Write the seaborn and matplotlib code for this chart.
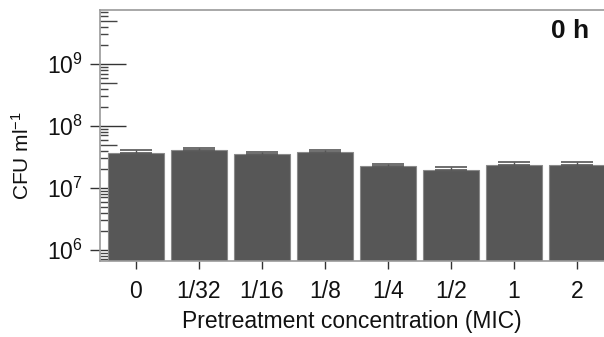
import matplotlib
matplotlib.use("Agg")
import matplotlib.pyplot as plt
import matplotlib.ticker as mticker
import numpy as np
import pandas as pd
import seaborn as sns

# ---- data ----
categories = ["0", "1/32", "1/16", "1/8", "1/4", "1/2", "1", "2"]
cfu_mean = [3.71e7, 4.15e7, 3.53e7, 3.75e7, 2.26e7, 1.97e7, 2.32e7, 2.32e7]
cfu_err = [0.30e7, 0.27e7, 0.22e7, 0.29e7, 0.21e7, 0.18e7, 0.34e7, 0.27e7]
panel_label = "0 h"
x_label = "Pretreatment concentration (MIC)"
y_label = r"CFU ml$^{-1}$"

sns.set_style("white")
plt.rcParams["font.family"] = ["Liberation Sans", "DejaVu Sans"]
plt.rcParams["mathtext.fontset"] = "custom"
plt.rcParams["mathtext.rm"] = "Liberation Sans"
plt.rcParams["mathtext.default"] = "regular"
plt.rcParams["text.color"] = "#111111"
plt.rcParams["axes.labelcolor"] = "#111111"

df = pd.DataFrame({"conc": categories, "cfu": cfu_mean})

fig = plt.figure(figsize=(6.04, 3.37), dpi=100)
ax = fig.add_axes([100 / 604, 76 / 337, 504 / 604, 251 / 337])
ax.set_yscale("log")

sns.barplot(data=df, x="conc", y="cfu", order=categories, color="#575757",
            saturation=1, width=0.9, edgecolor="#8a8a8a", linewidth=0.8,
            errorbar=None, ax=ax)

xpos = np.arange(len(categories))
ax.errorbar(xpos, cfu_mean, yerr=[np.zeros(len(cfu_err)), cfu_err], fmt="none",
            ecolor="#555555", elinewidth=1.0, capsize=11.5, capthick=1.2, zorder=3)

ax.set_xlim(-0.57, 7.43)
ax.set_ylim(10 ** 5.82, 10 ** 9.87)

# spines
for s in ["left", "top", "bottom"]:
    ax.spines[s].set_color("#9a9a9a")
    ax.spines[s].set_linewidth(1.2)
ax.spines["right"].set_visible(False)

FS = 16.5

# y ticks
ax.yaxis.set_major_locator(mticker.LogLocator(base=10, numticks=10))
ax.yaxis.set_minor_locator(mticker.LogLocator(base=10, subs=[2, 3, 4, 6, 7, 8, 9], numticks=20))
ax.yaxis.set_minor_formatter(mticker.NullFormatter())
ax.tick_params(axis="y", which="major", direction="out", length=7.5, width=1.0,
               color="#333333", labelcolor="#111111", labelsize=FS, pad=5, left=True)
ax.tick_params(axis="y", which="minor", direction="in", length=6, width=1.0,
               color="#444444", left=True)
ax.tick_params(axis="x", which="major", direction="out", length=5.5, width=1.0,
               color="#333333", labelcolor="#111111", labelsize=FS, pad=8.5, bottom=True)

ident = (lambda v: v, lambda v: v)
sec = ax.secondary_yaxis("left", functions=ident)
sec.set_yticks([1e6, 1e7, 1e8, 1e9])
sec.set_yticks([5e5, 5e6, 5e7, 5e8, 5e9], minor=True)
sec.yaxis.set_major_formatter(mticker.NullFormatter())
sec.yaxis.set_minor_formatter(mticker.NullFormatter())
sec.tick_params(axis="y", which="major", direction="in", length=19, width=1.0, color="#333333")
sec.tick_params(axis="y", which="minor", direction="in", length=12.5, width=1.0, color="#444444")
sec.spines["left"].set_visible(False)

ax.set_xlabel(x_label, fontsize=FS, labelpad=5)
ax.set_ylabel(y_label, fontsize=15)
ax.yaxis.set_label_coords(-0.133, 0.42)

ax.text(0.970, 0.916, panel_label, transform=ax.transAxes, ha="right", va="center",
        fontsize=19, fontweight="bold")

fig.savefig("out.png", dpi=100)
